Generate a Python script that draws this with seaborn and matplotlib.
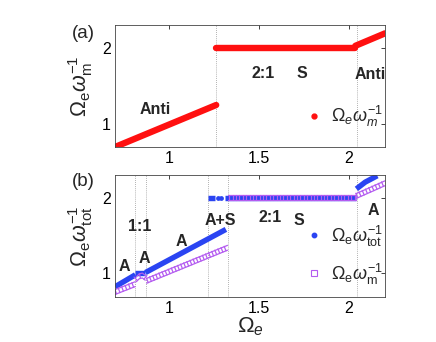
import numpy as np
import pandas as pd
import seaborn as sns
import matplotlib
matplotlib.use("Agg")
import matplotlib.pyplot as plt
from matplotlib import patheffects as pe
from matplotlib.lines import Line2D

# ---------------- data ----------------
# panel (a): Omega_e / omega_m, three straight pieces
a_seg = [0, 0, 1, 1, 2, 2]
a_x = [0.70, 1.262, 1.262, 2.035, 2.035, 2.20]
a_y = [0.70, 1.254, 2.00, 2.00, 2.035, 2.20]
a_bounds = [1.262, 2.045]

# panel (b): Omega_e / omega_tot (blue)
tot_seg = [0, 0, 1, 1, 2, 2, 3, 3, 4, 4, 5, 5, 5]
tot_x = [0.70, 0.813, 0.813, 0.869, 0.869, 1.316, 1.215, 1.255, 1.31, 2.04, 2.041, 2.09, 2.157]
tot_y = [0.81, 0.97, 1.00, 1.00, 1.00, 1.575, 2.00, 2.00, 2.00, 2.00, 2.115, 2.205, 2.29]
tot_dot_x = [1.272, 1.29]
tot_dot_y = [2.00, 2.00]

# panel (b): Omega_e / omega_m (purple squares)
m_seg = [0, 0, 1, 1, 1, 1, 2, 2, 3, 3, 4, 4]
m_x = [0.70, 0.812, 0.818, 0.835, 0.852, 0.868, 0.876, 1.325, 1.325, 2.04, 2.04, 2.20]
m_y = [0.74, 0.845, 0.91, 0.95, 0.96, 0.93, 0.89, 1.33, 2.00, 2.00, 2.02, 2.19]
b_bounds = [0.813, 0.872, 1.219, 1.327, 2.046]

xticks = [1, 1.5, 2]
yticks = [1, 2]
xtick_labels = ["1", "1.5", "2"]
ytick_labels = ["1", "2"]

a_labels = [("Anti", 0.925, 1.19), ("2:1", 1.525, 1.665), ("S", 1.74, 1.665), ("Anti", 2.115, 1.655)]
b_labels = [("A", 0.752, 1.075), ("1:1", 0.836, 1.62), ("A", 0.864, 1.19), ("A", 1.07, 1.41),
            ("A+S", 1.284, 1.70), ("2:1", 1.56, 1.74), ("S", 1.72, 1.70), ("A", 2.135, 1.83)]

# ---------------- style ----------------
sns.set_style("white")
plt.rcParams["font.family"] = ["Liberation Sans", "DejaVu Sans"]
plt.rcParams["mathtext.fontset"] = "custom"
plt.rcParams["mathtext.rm"] = "Liberation Sans"
plt.rcParams["mathtext.it"] = "Liberation Sans:italic"
plt.rcParams["mathtext.bf"] = "Liberation Sans:bold"

RED = "#ff1010"
BLUE = "#2a44f2"
PURPLE = "#b45cf0"

fig = plt.figure(figsize=(4.36, 3.42), dpi=100)
axA = fig.add_axes([0.2638, 0.5702, 0.6193, 0.3567])
axB = fig.add_axes([0.2638, 0.1307, 0.6193, 0.3576])


def style_axes(ax, ylim):
    ax.set_xlim(0.70, 2.20)
    ax.set_ylim(*ylim)
    ax.set_xticks(xticks)
    ax.set_xticklabels(xtick_labels)
    ax.set_yticks(yticks)
    ax.set_yticklabels(ytick_labels)
    ax.tick_params(direction="in", top=True, right=True, length=3, width=0.6,
                   labelsize=11.5, colors="#222222", pad=3)
    ax.tick_params(axis="both", labelcolor="black")
    for s in ax.spines.values():
        s.set_linewidth(0.6)
        s.set_color("#444444")
        s.set_visible(True)


# ---------------- panel (a) ----------------
dfa = pd.DataFrame({"x": a_x, "y": a_y, "seg": a_seg})
sns.lineplot(data=dfa, x="x", y="y", units="seg", estimator=None, sort=False,
             color=RED, lw=4.6, solid_capstyle="round", ax=axA, legend=False)
for b in a_bounds:
    axA.axvline(b, color="#999999", lw=0.6, ls=(0, (1, 1.5)), zorder=0)
style_axes(axA, (0.70, 2.31))
axA.set_xlabel("")
axA.set_ylabel(r"$\Omega_\mathrm{e}\omega_\mathrm{m}^{-1}$", fontsize=15.5)
axA.yaxis.set_label_coords(-0.075, 0.5)
for t, x, y in a_labels:
    axA.text(x, y, t, fontsize=11.5, fontweight="bold", ha="center", va="center")
hA = [Line2D([], [], marker="o", ls="none", color=RED, ms=3.5)]
axA.legend(hA, [r"$\Omega_e\omega_m^{-1}$"], loc="center left", bbox_to_anchor=(0.705, 0.25),
           frameon=False, fontsize=13, handlelength=1.0, handletextpad=0.4, borderpad=0,
           borderaxespad=0)
fig.text(83 / 436, 1 - 33 / 342, "(a)", fontsize=13.5, ha="center", va="center")

# ---------------- panel (b) ----------------
dft = pd.DataFrame({"x": tot_x, "y": tot_y, "seg": tot_seg})
sns.lineplot(data=dft, x="x", y="y", units="seg", estimator=None, sort=False,
             color=BLUE, lw=3.9, solid_capstyle="butt", ax=axB, legend=False)
sns.scatterplot(x=tot_dot_x, y=tot_dot_y, color=BLUE, s=12, linewidth=0, ax=axB, legend=False)

sq = 3.5
spc = 2.4
lwq = 0.9
square_fx = [
    pe.Stroke(offset=(0, -sq / 2), linewidth=lwq, foreground=PURPLE),
    pe.Stroke(offset=(0, sq / 2), linewidth=lwq, foreground=PURPLE),
    pe.TickedStroke(offset=(0, -sq / 2), spacing=spc, angle=90, length=sq / spc,
                    linewidth=lwq, foreground=PURPLE),
]
dfm = pd.DataFrame({"x": m_x, "y": m_y, "seg": m_seg})
sns.lineplot(data=dfm, x="x", y="y", units="seg", estimator=None, sort=False,
             color=PURPLE, lw=1, ax=axB, legend=False, path_effects=square_fx)

for b in b_bounds:
    axB.axvline(b, color="#999999", lw=0.6, ls=(0, (1, 1.5)), zorder=0)
style_axes(axB, (0.67, 2.30))
axB.set_xlabel(r"$\Omega_e$", fontsize=16, labelpad=-1)
axB.set_ylabel(r"$\Omega_\mathrm{e}\omega_\mathrm{tot}^{-1}$", fontsize=15.5)
axB.yaxis.set_label_coords(-0.075, 0.5)
for t, x, y in b_labels:
    axB.text(x, y, t, fontsize=11.5, fontweight="bold", ha="center", va="center")
hB = [Line2D([], [], marker="o", ls="none", color=BLUE, ms=3.2),
      Line2D([], [], marker="s", ls="none", mfc="none", mec=PURPLE, mew=0.8, ms=4)]
axB.legend(hB, [r"$\Omega_\mathrm{e}\omega_\mathrm{tot}^{-1}$", r"$\Omega_\mathrm{e}\omega_\mathrm{m}^{-1}$"],
           loc="center left", bbox_to_anchor=(0.705, 0.345), frameon=False, fontsize=13,
           handlelength=1.0, handletextpad=0.4, borderpad=0, borderaxespad=0, labelspacing=0.7)
fig.text(83 / 436, 1 - 182 / 342, "(b)", fontsize=13.5, ha="center", va="center")

fig.savefig("out.png", dpi=100)
